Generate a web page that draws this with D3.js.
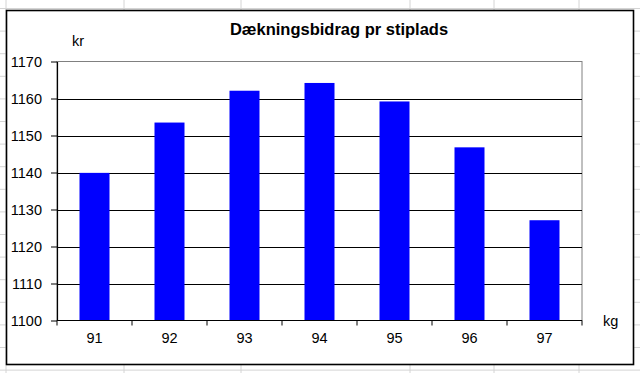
<!DOCTYPE html>
<html>
<head>
<meta charset="utf-8">
<script src="https://cdn.jsdelivr.net/npm/d3@7"></script>
<style>
  body { margin: 0; background: #fff; }
  text { font-family: Arial, "Liberation Sans", sans-serif; fill: #000; }
</style>
</head>
<body>
<script>
const WIDTH = 640;
const HEIGHT = 373;

const title = 'Dækningsbidrag pr stiplads';
const categories = ['91', '92', '93', '94', '95', '96', '97'];
const values = [1139.9, 1153.5, 1162.1, 1164.2, 1159.2, 1146.8, 1127.1];
const yTicks = [1100, 1110, 1120, 1130, 1140, 1150, 1160, 1170];

// faint spreadsheet cell lines behind the chart
const sheetCols = [6, 124, 241, 410, 494, 579];
const sheetRows = d3.range(8.5, HEIGHT, 22.6);

const plot = { left: 57, right: 582, top: 61.5, bottom: 320.5 };

const svg = d3.select('body').append('svg')
  .attr('width', WIDTH)
  .attr('height', HEIGHT);

svg.selectAll('.col').data(sheetCols).enter().append('line')
  .attr('x1', d => d).attr('x2', d => d)
  .attr('y1', 0).attr('y2', HEIGHT)
  .attr('stroke', '#d4d4d4').attr('stroke-width', 1);

svg.selectAll('.row').data(sheetRows).enter().append('line')
  .attr('x1', 0).attr('x2', WIDTH)
  .attr('y1', d => d).attr('y2', d => d)
  .attr('stroke', '#d4d4d4').attr('stroke-width', 1);

// chart area
svg.append('rect')
  .attr('x', 6.5).attr('y', 10.5)
  .attr('width', 627).attr('height', 354)
  .attr('fill', '#fff')
  .attr('stroke', '#000')
  .attr('stroke-width', 1.6);

const x = d3.scaleBand()
  .domain(categories)
  .range([plot.left, plot.right])
  .paddingInner(0.6)
  .paddingOuter(0.3);

const xTickScale = d3.scaleLinear()
  .domain([0, categories.length])
  .range([plot.left, plot.right]);

const y = d3.scaleLinear()
  .domain([1100, 1170])
  .range([plot.bottom, plot.top]);

// plot frame (grey top/right)
svg.append('rect')
  .attr('x', plot.left).attr('y', plot.top)
  .attr('width', plot.right - plot.left)
  .attr('height', plot.bottom - plot.top)
  .attr('fill', 'none')
  .attr('stroke', '#808080')
  .attr('stroke-width', 1);

// gridlines
svg.selectAll('.grid').data(yTicks.filter(t => t > 1100 && t < 1170)).enter().append('line')
  .attr('x1', plot.left).attr('x2', plot.right)
  .attr('y1', d => Math.round(y(d)) + 0.5).attr('y2', d => Math.round(y(d)) + 0.5)
  .attr('stroke', '#000').attr('stroke-width', 1);

// bars
svg.selectAll('.bar').data(values).enter().append('rect')
  .attr('x', (d, i) => x(categories[i]))
  .attr('y', d => y(d))
  .attr('width', x.bandwidth())
  .attr('height', d => plot.bottom - y(d))
  .attr('fill', '#0000ff');

// y axis
const yAxis = svg.append('g')
  .attr('transform', `translate(${plot.left},0)`)
  .call(d3.axisLeft(y).tickValues(yTicks).tickFormat(d3.format('d'))
    .tickSize(6).tickPadding(9).tickSizeOuter(0));
yAxis.select('.domain').attr('stroke', '#000').attr('stroke-width', 1.2);
yAxis.selectAll('text')
  .style('font-size', '14.5px')
  .style('font-family', 'Arial, "Liberation Sans", sans-serif')
  .attr('fill', '#000');

// x axis: line with ticks between categories
svg.append('line')
  .attr('x1', plot.left).attr('x2', plot.right)
  .attr('y1', plot.bottom).attr('y2', plot.bottom)
  .attr('stroke', '#000').attr('stroke-width', 1.2);

svg.selectAll('.xtick').data(d3.range(categories.length + 1)).enter().append('line')
  .attr('x1', d => xTickScale(d)).attr('x2', d => xTickScale(d))
  .attr('y1', plot.bottom).attr('y2', plot.bottom + 5)
  .attr('stroke', '#000').attr('stroke-width', 1);

svg.selectAll('.xlabel').data(categories).enter().append('text')
  .attr('x', d => x(d) + x.bandwidth() / 2)
  .attr('y', 343)
  .attr('text-anchor', 'middle')
  .style('font-size', '14.5px')
  .text(d => d);

// title and unit labels
svg.append('text')
  .attr('x', 339).attr('y', 35)
  .attr('text-anchor', 'middle')
  .style('font-size', '16.5px')
  .style('font-weight', 'bold')
  .text(title);

svg.append('text')
  .attr('x', 72).attr('y', 46)
  .style('font-size', '14.5px')
  .text('kr');

svg.append('text')
  .attr('x', 603).attr('y', 326)
  .style('font-size', '14.5px')
  .text('kg');
</script>
</body>
</html>
